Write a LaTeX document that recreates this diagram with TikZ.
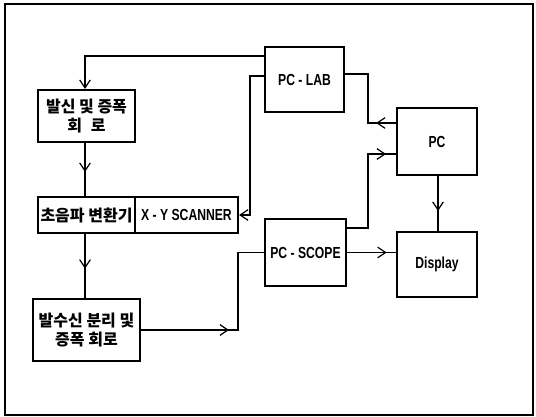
\documentclass[tikz,border=0pt]{standalone}
\usepackage{fontspec}
\setmainfont{Liberation Sans}[FakeStretch=0.76]
\newfontfamily\kr{Noto Sans CJK KR}
\usetikzlibrary{arrows.meta,decorations.markings,calc}
\begin{document}
\begin{tikzpicture}[x=0.75pt,y=-0.75pt,
  bx/.style 2 args={draw, line width=1.5pt, inner sep=0pt, align=center,
    minimum width=#1*0.75pt, minimum height=#2*0.75pt},
  lat/.style={font=\fontsize{12}{13}\selectfont\bfseries},
  kor/.style={font=\kr\fontsize{12}{14.5}\selectfont\bfseries},
  conn/.style={draw, line width=1pt},
  tipend/.style={-{Straight Barb[length=6pt,width=8pt,line width=0.9pt]}},
  midarr/.style={postaction={decorate}, decoration={markings,
    mark=at position #1 with {\arrow{Straight Barb[length=6pt,width=8pt,line width=0.9pt]}}}}
]
\useasboundingbox (0,0) rectangle (536,417);
\draw[line width=0.8pt] (5,4) rectangle (533,415);

\node[bx={97}{52}, kor] (b1) at (86.5,116) {발신 및 증폭\\회\hspace{0.55em}로};
\node[bx={97}{36}, kor] (b2l) at (86.5,215) {초음파 변환기};
\node[bx={103}{36}, lat] (b2r) at (186.5,215) {X - Y SCANNER};
\node[bx={107}{62}, kor] (b3) at (86.5,330) {발수신 분리 및\\증폭 회로};
\node[bx={79}{65}, lat] (lab) at (304.5,79.5) {PC - LAB};
\node[bx={81}{67}, lat] (scope) at (305.5,252.5) {PC - SCOPE};
\node[bx={80}{67}, lat] (pc) at (437,141.5) {PC};
\node[bx={80}{65}, lat] (disp) at (437,264.5) {Display};

\coordinate (k1) at (85,56);
\coordinate (k2) at (250,76);
\coordinate (k3) at (238,330);
\coordinate (k4) at (368,228);
\coordinate (k5) at (368,123);
\coordinate (k6) at (397,154);
\coordinate (k7) at (344,74);

% PC-LAB -> box1
\draw[conn, tipend] (lab.west |- k1) -| (b1.north -| k1);
% PC-LAB -> X-Y scanner
\draw[conn, tipend] (lab.west |- k2) -| (k2 |- b2r.east) -- (b2r.east);
% box1 -> box2
\draw[conn, midarr=-18pt] (b1.south -| k1) -- (b2l.north -| k1);
% box2 -> box3
\draw[conn, midarr=-22pt] (b2l.south -| k1) -- (b3.north -| k1);
% box3 -> PC-SCOPE
\draw[conn, midarr=66pt] (b3.east |- k3) -- (k3) |- (scope.west);
% PC-SCOPE -> Display
\draw[conn, midarr=-7pt] (scope.east) -- (disp.west |- scope.east);
% PC-SCOPE -> PC
\draw[conn, midarr=-7.5pt] (scope.east |- k4) -- (k4) |- (pc.west |- k6);
% PC -> PC-LAB
\draw[conn, midarr=15pt] (pc.west |- k5) -- (k5) |- (lab.east |- k7);
% PC -> Display
\draw[conn, midarr=-15pt] ($(pc.south)+(1,0)$) -- ($(disp.north)+(1,0)$);
\end{tikzpicture}
\end{document}
